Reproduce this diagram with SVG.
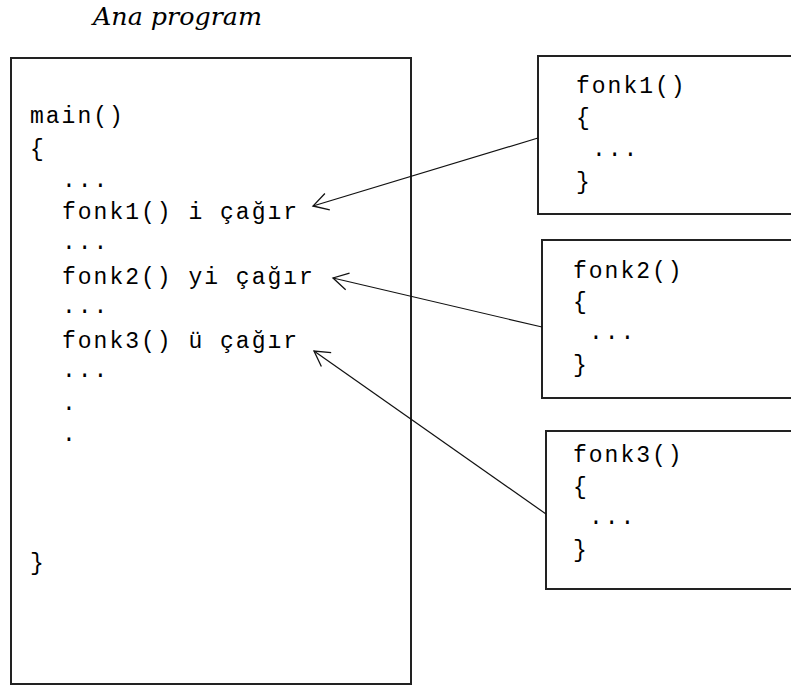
<svg xmlns="http://www.w3.org/2000/svg" width="791" height="686" viewBox="0 0 791 686">
<style>
.box{fill:#fff;stroke:#222;stroke-width:2}
.code{font-family:"Liberation Mono","Courier New",monospace;font-size:23px;letter-spacing:2px;fill:#000}
.title{font-family:"DejaVu Serif","Liberation Serif",serif;font-style:italic;font-weight:normal;font-size:24px;fill:#000}
.conn{stroke:#111;stroke-width:1.2;fill:none}
</style>
<defs>
<marker id="arr" markerUnits="userSpaceOnUse" markerWidth="30" markerHeight="30" viewBox="-20 -15 25 30" refX="0" refY="0" orient="auto">
<path d="M -15 -8.5 L 0 0 L -15 8.5" fill="none" stroke="#111" stroke-width="1.3"/>
</marker>
</defs>
<rect width="791" height="686" fill="#fff"/>
<text class="title" x="93" y="25" textLength="169" lengthAdjust="spacingAndGlyphs">Ana program</text>
<g id="main">
<rect class="box" x="11" y="58" width="400" height="626"/>
<text class="code" x="30" y="123">main()</text>
<text class="code" x="30" y="156">{</text>
<text class="code" x="62" y="187">...</text>
<text class="code" x="62" y="219" xml:space="preserve">fonk1() i çağır</text>
<text class="code" x="62" y="249">...</text>
<text class="code" x="62" y="284" xml:space="preserve">fonk2() yi çağır</text>
<text class="code" x="62" y="313">...</text>
<text class="code" x="62" y="348" xml:space="preserve">fonk3() ü çağır</text>
<text class="code" x="62" y="377">...</text>
<text class="code" x="62" y="410">.</text>
<text class="code" x="62" y="441">.</text>
<text class="code" x="30" y="570">}</text>
</g>
<g id="fonk1">
<rect class="box" x="538" y="56" width="270" height="158"/>
<text class="code" x="576" y="93">fonk1()</text>
<text class="code" x="576" y="125">{</text>
<text class="code" x="592" y="156">...</text>
<text class="code" x="576" y="189">}</text>
</g>
<g id="fonk2">
<rect class="box" x="542" y="240" width="270" height="158"/>
<text class="code" x="573" y="278">fonk2()</text>
<text class="code" x="573" y="309">{</text>
<text class="code" x="589" y="339">...</text>
<text class="code" x="573" y="372">}</text>
</g>
<g id="fonk3">
<rect class="box" x="546" y="431" width="270" height="158"/>
<text class="code" x="573" y="462">fonk3()</text>
<text class="code" x="573" y="494">{</text>
<text class="code" x="589" y="524">...</text>
<text class="code" x="573" y="557">}</text>
</g>
<g id="connectors">
<line class="conn" x1="538" y1="138" x2="313" y2="206" marker-end="url(#arr)"/>
<line class="conn" x1="542" y1="327" x2="333" y2="278" marker-end="url(#arr)"/>
<line class="conn" x1="546" y1="514" x2="314" y2="351" marker-end="url(#arr)"/>
</g>
</svg>
